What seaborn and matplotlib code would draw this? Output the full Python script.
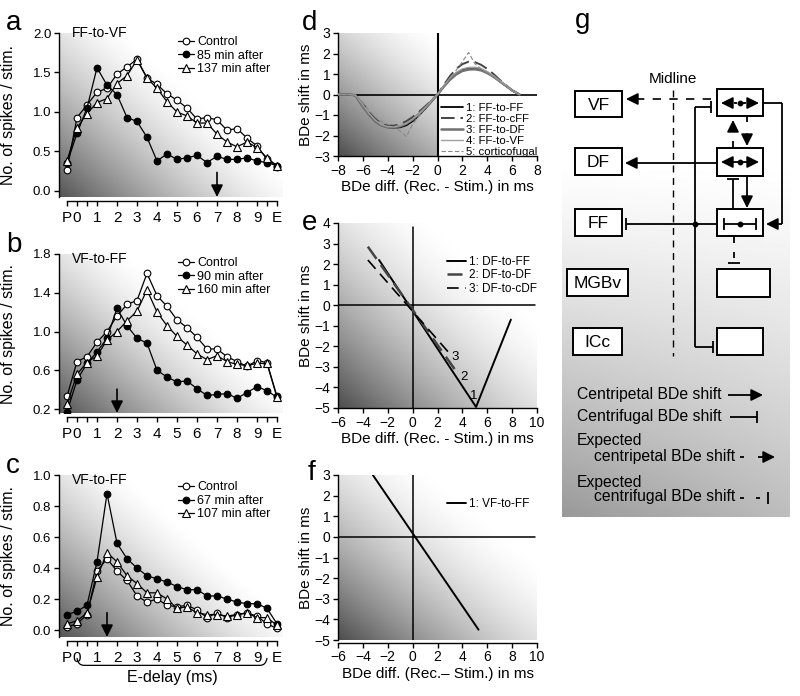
import numpy as np
import matplotlib
matplotlib.use("Agg")
import matplotlib.pyplot as plt
import matplotlib.transforms as mtransforms
from matplotlib.patches import Rectangle, PathPatch
from matplotlib.path import Path
import seaborn as sns

# ---------------------------------------------------------------- data
delay_x = [-0.5, 0, 0.5, 1, 1.5, 2, 2.5, 3, 3.5, 4, 4.5, 5, 5.5, 6, 6.5, 7, 7.5, 8, 8.5, 9, 9.5, 10]
delay_ticks = [-0.5, 0, 0.5, 1, 2, 3, 4, 5, 6, 7, 8, 9, 9.5, 10]
delay_labels = ["P", "0", "", "1", "2", "3", "4", "5", "6", "7", "8", "9", "", "E"]

a_control = [0.27, 0.93, 1.09, 1.25, 1.30, 1.48, 1.57, 1.67, 1.43, 1.35, 1.23, 1.15, 1.05, 0.91, 0.93, 0.90, 0.77, 0.79, 0.67, 0.57, 0.40, 0.31]
a_85min = [0.35, 0.73, 1.05, 1.56, 1.34, 1.22, 0.93, 0.88, 0.68, 0.38, 0.47, 0.40, 0.42, 0.45, 0.36, 0.44, 0.40, 0.40, 0.42, 0.38, 0.36, 0.32]
a_137min = [0.38, 0.80, 0.98, 1.12, 1.17, 1.36, 1.46, 1.66, 1.43, 1.30, 1.13, 1.00, 0.95, 0.86, 0.86, 0.72, 0.62, 0.56, 0.62, 0.55, 0.42, 0.32]

b_control = [0.33, 0.69, 0.74, 0.89, 1.00, 1.16, 1.28, 1.32, 1.60, 1.37, 1.26, 1.12, 1.04, 0.94, 0.82, 0.82, 0.74, 0.69, 0.64, 0.70, 0.68, 0.33]
b_90min = [0.17, 0.50, 0.67, 0.79, 0.93, 1.24, 1.06, 0.93, 0.88, 0.60, 0.53, 0.48, 0.49, 0.41, 0.34, 0.35, 0.36, 0.31, 0.37, 0.43, 0.39, 0.32]
b_160min = [0.25, 0.56, 0.68, 0.75, 0.91, 1.00, 1.11, 1.21, 1.43, 1.20, 1.06, 0.95, 0.86, 0.77, 0.71, 0.75, 0.69, 0.66, 0.65, 0.67, 0.67, 0.32]

c_control = [0.02, 0.04, 0.10, 0.38, 0.46, 0.38, 0.32, 0.22, 0.18, 0.20, 0.16, 0.15, 0.16, 0.13, 0.08, 0.11, 0.08, 0.10, 0.11, 0.09, 0.04, 0.01]
c_67min = [0.10, 0.12, 0.16, 0.44, 0.88, 0.56, 0.46, 0.40, 0.35, 0.33, 0.31, 0.28, 0.26, 0.26, 0.22, 0.22, 0.20, 0.18, 0.17, 0.17, 0.14, 0.04]
c_107min = [0.04, 0.06, 0.11, 0.34, 0.50, 0.44, 0.35, 0.30, 0.24, 0.24, 0.20, 0.14, 0.15, 0.11, 0.10, 0.10, 0.09, 0.10, 0.11, 0.08, 0.08, 0.03]

titles_abc = ["FF-to-VF", "VF-to-FF", "VF-to-FF"]
labels_a = ["Control", "85 min after", "137 min after"]
labels_b = ["Control", "90 min after", "160 min after"]
labels_c = ["Control", "67 min after", "107 min after"]
arrow_delay = [7, 2, 1.5]

# panel d: BDe shift curves
d_x = [-8, -7, -6.6, -6, -5.5, -5, -4.5, -4, -3.5, -3, -2.5, -2, -1.5, -1, -0.5, 0,
       0.5, 1, 1.5, 2, 2.5, 3, 3.5, 4, 4.5, 5, 5.5, 6, 6.6]
d_ff_ff = [0, 0, -0.05, -0.55, -0.95, -1.3, -1.5, -1.6, -1.62, -1.6, -1.5, -1.3, -1.02, -0.7, -0.36, 0,
           0.4, 0.75, 1.02, 1.2, 1.28, 1.29, 1.22, 1.08, 0.88, 0.65, 0.42, 0.2, 0]
d_ff_cff = [0, -0.02, -0.1, -0.45, -0.85, -1.2, -1.42, -1.52, -1.52, -1.45, -1.3, -1.1, -0.85, -0.58, -0.3, 0,
            0.45, 0.9, 1.25, 1.48, 1.6, 1.58, 1.45, 1.25, 1.0, 0.72, 0.45, 0.2, 0]
d_ff_df = [0, 0, -0.05, -0.6, -1.0, -1.32, -1.52, -1.6, -1.6, -1.55, -1.42, -1.22, -0.95, -0.65, -0.33, 0,
           0.38, 0.72, 0.98, 1.15, 1.22, 1.23, 1.18, 1.05, 0.87, 0.65, 0.43, 0.2, 0]
d_ff_vf = [0, 0, -0.03, -0.5, -0.92, -1.25, -1.47, -1.57, -1.58, -1.52, -1.4, -1.2, -0.95, -0.65, -0.33, 0,
           0.42, 0.8, 1.08, 1.25, 1.32, 1.33, 1.27, 1.12, 0.92, 0.68, 0.44, 0.2, 0]
d_cortico = [0, 0, 0, -0.4, -0.78, -1.1, -1.32, -1.45, -1.58, -1.8, -2.05, -1.45, -1.05, -0.68, -0.33, 0,
             0.38, 0.78, 1.18, 1.6, 2.05, 1.5, 1.25, 1.05, 0.85, 0.62, 0.42, 0.2, 0]
d_labels = ["1: FF-to-FF", "2: FF-to-cFF", "3: FF-to-DF", "4: FF-to-VF", "5: corticofugal"]

# panel e: fitted lines
e_df_ff_x = [-2.7, 5.1, 7.9]
e_df_ff_y = [2.2, -4.95, -0.7]
e_df_df_x = [-3.6, 3.6]
e_df_df_y = [2.85, -3.3]
e_df_cdf_x = [-3.6, 2.9]
e_df_cdf_y = [2.2, -2.3]
e_labels = ["1: DF-to-FF", "2: DF-to-DF", "3: DF-to-cDF"]

# panel f
f_x = [-3.2, 5.3]
f_y = [3.0, -4.5]
f_labels = ["1: VF-to-FF"]

# ---------------------------------------------------------------- style
sns.set_theme(style="ticks", rc={
    "axes.edgecolor": "black", "axes.linewidth": 1.0,
    "xtick.color": "black", "ytick.color": "black",
    "xtick.major.size": 3.5, "ytick.major.size": 3.5,
    "xtick.major.width": 1.0, "ytick.major.width": 1.0,
    "xtick.major.pad": 2, "ytick.major.pad": 2,
    "text.color": "black", "axes.labelcolor": "black",
})
plt.rcParams["font.family"] = ["Liberation Sans", "DejaVu Sans"]

W, H = 800, 696
fig = plt.figure(figsize=(8, 6.96), dpi=100)


def px_axes(l, t, r, b):
    return fig.add_axes([l / W, 1 - b / H, (r - l) / W, (b - t) / H])


def shade(ax, ext, wx=0.55, dark=0.33, reach=0.62, power=1.4):
    u = np.linspace(0, 1, 200)
    U, V = np.meshgrid(u, u)
    t = wx * U + (1 - wx) * V
    g = 1 - (1 - dark) * np.clip(1 - t / reach, 0, 1) ** power
    ax.imshow(g, cmap="gray", vmin=0, vmax=1, origin="lower", extent=ext,
              aspect="auto", zorder=0, interpolation="bilinear")


# ---------------------------------------------------------------- panels a-c
abc_rows = [
    (33, 197, (-0.076, 2.0), [0, 0.5, 1.0, 1.5, 2.0], [a_control, a_85min, a_137min], labels_a, 0.98),
    (254, 413, (0.159, 1.8), [0.2, 0.6, 1.0, 1.4, 1.8], [b_control, b_90min, b_160min], labels_b, 0.98),
    (475, 637, (-0.045, 1.0), [0, 0.2, 0.4, 0.6, 0.8, 1.0], [c_control, c_67min, c_107min], labels_c, 0.96),
]
mk = [dict(marker="o", markerfacecolor="white", markersize=4.8),
      dict(marker="o", markerfacecolor="black", markersize=4.8),
      dict(marker="^", markerfacecolor="white", markersize=5.5)]

for i, (top, bot, ylim, yt, series, labs, legy) in enumerate(abc_rows):
    ax = px_axes(59, top, 283, bot)
    xlim = (-0.9, 10.3)
    shade(ax, (xlim[0], xlim[1], ylim[0], ylim[1]))
    for vals, lab, m in zip(series, labs, mk):
        sns.lineplot(x=delay_x, y=vals, ax=ax, color="black", lw=0.9, label=lab,
                     markeredgecolor="black", markeredgewidth=0.8, estimator=None,
                     sort=False, zorder=3, **m)
    ax.set_xlim(*xlim)
    ax.set_ylim(*ylim)
    ax.set_yticks(yt)
    ax.set_yticklabels([f"{v:.1f}" for v in yt], fontsize=9.5)
    ax.set_xticks(delay_ticks)
    ax.set_xticklabels(delay_labels, fontsize=9.5)
    ax.tick_params(axis="x", pad=3.5)
    sns.despine(ax=ax)
    ax.spines["bottom"].set_position(("outward", 3))
    ax.spines["bottom"].set_bounds(-0.5, 10)
    ax.set_ylabel("No. of spikes / stim.", fontsize=11.5)
    ax.yaxis.set_label_coords(-0.19, 0.5)
    ax.set_xlabel("")
    ax.text(0.058, 1.0 if i == 0 else 0.97, titles_abc[i], transform=ax.transAxes,
            fontsize=10, va="center", ha="left")
    ax.legend(loc="upper left", bbox_to_anchor=(0.53, legy), frameon=False, fontsize=9,
              handlelength=1.3, handletextpad=0.25, labelspacing=0.12, borderpad=0,
              borderaxespad=0)
    ax.annotate("", xy=(arrow_delay[i], 0.0), xytext=(arrow_delay[i], 0.15),
                xycoords=("data", "axes fraction"), textcoords=("data", "axes fraction"),
                arrowprops=dict(arrowstyle="-|>,head_length=0.6,head_width=0.3",
                                color="black", lw=1.2, shrinkA=0, shrinkB=0), zorder=4)
    if i == 2:
        tr = mtransforms.blended_transform_factory(ax.transData, ax.transAxes)
        y1, y2 = -0.13, -0.175
        verts = [(0, y1), (0.05, y2), (0.35, y2), (9.15, y2), (9.45, y2), (9.5, y1)]
        codes = [Path.MOVETO, Path.CURVE3, Path.CURVE3, Path.LINETO, Path.CURVE3, Path.CURVE3]
        ax.add_patch(PathPatch(Path(verts, codes), transform=tr, fc="none", ec="black",
                               lw=0.9, clip_on=False))
        ax.text(4.75, -0.25, "E-delay (ms)", transform=tr, ha="center", va="center",
                fontsize=11.5)

# ---------------------------------------------------------------- panel d
axd = px_axes(338, 33, 537, 156)
shade(axd, (-8, 0, -3, 3), wx=0.4, dark=0.3, reach=1.0, power=1.5)
d_styles = [
    dict(color="black", lw=1.3, linestyle="-"),
    dict(color="#444444", lw=1.4, linestyle=(0, (7, 3))),
    dict(color="#707070", lw=1.8, linestyle="-"),
    dict(color="#a0a0a0", lw=1.0, linestyle="-"),
    dict(color="#888888", lw=0.8, linestyle=(0, (4, 2))),
]
for ys, lab, st in zip([d_ff_ff, d_ff_cff, d_ff_df, d_ff_vf, d_cortico], d_labels, d_styles):
    sns.lineplot(x=d_x, y=ys, ax=axd, label=lab, estimator=None, sort=False, zorder=3, **st)
axd.plot([-8, 8], [0, 0], color="black", lw=1.2, zorder=2)
axd.plot([0, 0], [-3, 3], color="black", lw=1.5, zorder=2)
axd.set_xlim(-8, 8)
axd.set_ylim(-3, 3)
axd.set_xticks(range(-8, 9, 2))
axd.set_yticks(range(-3, 4))
axd.tick_params(labelsize=10)
sns.despine(ax=axd)
axd.set_xlabel("BDe diff. (Rec. - Stim.) in ms", fontsize=11, labelpad=2)
axd.set_ylabel("BDe shift in ms", fontsize=11, labelpad=1)
axd.legend(loc="lower right", bbox_to_anchor=(1.0, -0.005), frameon=False, fontsize=8.2,
           handlelength=2.0, handletextpad=0.2, labelspacing=0.07, borderpad=0,
           borderaxespad=0)

# ---------------------------------------------------------------- panel e
axe = px_axes(338, 223, 537, 408)
shade(axe, (-6, 10, -5, 4), wx=0.5, dark=0.3, reach=0.75, power=1.6)
sns.lineplot(x=e_df_ff_x, y=e_df_ff_y, ax=axe, color="black", lw=1.4, label=e_labels[0],
             estimator=None, sort=False, zorder=3)
sns.lineplot(x=e_df_df_x, y=e_df_df_y, ax=axe, color="#444444", lw=1.8, linestyle=(0, (6, 3)),
             label=e_labels[1], estimator=None, sort=False, zorder=3)
sns.lineplot(x=e_df_cdf_x, y=e_df_cdf_y, ax=axe, color="black", lw=1.2, linestyle=(0, (7, 4)),
             label=e_labels[2], estimator=None, sort=False, zorder=3)
axe.plot([-6, 9.8], [0, 0], color="black", lw=1.1, zorder=2)
axe.plot([0, 0], [-5, 3.8], color="black", lw=1.1, zorder=2)
for lx, ly, t in [(4.9, -4.4, "1"), (4.1, -3.5, "2"), (3.4, -2.5, "3")]:
    axe.text(lx, ly, t, fontsize=9.5, ha="center", va="center", zorder=4)
axe.set_xlim(-6, 10)
axe.set_ylim(-5, 4)
axe.set_xticks(range(-6, 11, 2))
axe.set_yticks(range(-5, 5))
axe.tick_params(labelsize=10)
sns.despine(ax=axe)
axe.set_xlabel("BDe diff. (Rec. - Stim.) in ms", fontsize=11, labelpad=2)
axe.set_ylabel("BDe shift in ms", fontsize=11, labelpad=1)
axe.legend(loc="upper left", bbox_to_anchor=(0.55, 0.82), frameon=False, fontsize=8.5,
           handlelength=1.6, handletextpad=0.2, labelspacing=0.1, borderpad=0,
           borderaxespad=0)

# ---------------------------------------------------------------- panel f
axf = px_axes(338, 475, 537, 640)
shade(axf, (-6, 10, -5, 3), wx=0.5, dark=0.3, reach=0.75, power=1.6)
sns.lineplot(x=f_x, y=f_y, ax=axf, color="black", lw=1.4, label=f_labels[0],
             estimator=None, sort=False, zorder=3)
axf.plot([-6, 9.8], [0, 0], color="black", lw=1.1, zorder=2)
axf.plot([0, 0], [-5, 3], color="black", lw=1.1, zorder=2)
axf.set_xlim(-6, 10)
axf.set_ylim(-5, 3)
axf.set_xticks(range(-6, 11, 2))
axf.set_yticks(range(-5, 4))
axf.tick_params(labelsize=10)
sns.despine(ax=axf)
axf.spines["bottom"].set_position(("outward", 2))
axf.set_xlabel("BDe diff. (Rec.\u2013 Stim.) in ms", fontsize=11, labelpad=2)
axf.set_ylabel("BDe shift in ms", fontsize=11, labelpad=1)
axf.legend(loc="upper left", bbox_to_anchor=(0.55, 0.86), frameon=False, fontsize=8.5,
           handlelength=1.6, handletextpad=0.2, borderpad=0, borderaxespad=0)

# ---------------------------------------------------------------- panel g (schematic, pixel coords)
gx = fig.add_axes([0, 0, 1, 1])
gx.patch.set_alpha(0)
gx.axis("off")

yy = np.linspace(40, 517, 300)
xx = np.linspace(562, 790, 150)
X, Y = np.meshgrid(xx, yy)
tt = np.clip((Y - 160) / 357, 0, 1)
ss = (X - 562) / 228
gg = 1 - 0.4 * tt ** 1.25 * (1 - 0.35 * ss)
gx.imshow(gg, cmap="gray", vmin=0, vmax=1, extent=(562, 790, 517, 40), aspect="auto",
          zorder=0, interpolation="bilinear")


def seg(x0, y0, x1, y1, ls="-", lw=1.3):
    gx.plot([x0, x1], [y0, y1], color="black", lw=lw, ls=ls, solid_capstyle="butt", zorder=4)


def head(x0, y0, x1, y1):
    gx.annotate("", xy=(x1, y1), xytext=(x0, y0),
                arrowprops=dict(arrowstyle="-|>,head_length=0.6,head_width=0.3", color="black",
                                lw=1.2, shrinkA=0, shrinkB=0, mutation_scale=12), zorder=5)


def box(x0, y0, x1, y1, label=None):
    gx.add_patch(Rectangle((x0, y0), x1 - x0, y1 - y0, fc="white", ec="black", lw=1.4, zorder=3))
    if label:
        gx.text((x0 + x1) / 2, (y0 + y1) / 2 + 1, label, ha="center", va="center",
                fontsize=12.5, zorder=4)


def dot(x, y):
    gx.plot([x], [y], "o", color="black", ms=3.2, zorder=6)


for (x0, y0, x1, y1, lab) in [(575, 91, 622, 117, "VF"), (575, 148, 622, 175, "DF"),
                              (575, 209, 622, 236, "FF"), (567, 269, 628, 296, "MGBv"),
                              (573, 328, 622, 355, "ICc")]:
    box(x0, y0, x1, y1, lab)
for (x0, y0, x1, y1) in [(717, 89, 763, 116), (717, 148, 763, 176), (717, 209, 763, 236),
                         (717, 269, 770, 297), (717, 328, 763, 355)]:
    box(x0, y0, x1, y1)

gx.text(673, 79, "Midline", ha="center", va="center", fontsize=11)
gx.plot([673, 673], [90, 356], color="black", lw=1.0, ls=(0, (5, 4)), zorder=2)

# VF: expected centripetal (dashed)
gx.plot([711, 636], [99, 99], color="black", lw=1.2, ls=(0, (5, 5)), zorder=4)
head(636, 99, 626, 99)
# DF: centripetal
seg(717, 163, 634, 163)
head(636, 163, 625, 163)
# FF: centrifugal
seg(717, 224, 626, 224)
seg(626, 218, 626, 230)
dot(695, 224)
# vertical feed line
seg(695, 107, 695, 347)
seg(695, 107, 711, 107)
seg(711, 101, 711, 113)
seg(695, 347, 713, 347)
seg(713, 341, 713, 353)
# right loop
seg(763, 103, 782, 103)
seg(782, 103, 782, 224)
seg(782, 224, 774, 224)
head(776, 224, 766, 224)
# inside R1 (expected, dashed)
head(732, 103, 721, 103)
seg(734, 103, 737, 103)
seg(743, 103, 746, 103)
head(748, 103, 759, 103)
dot(740, 103)
# inside R2 (solid)
seg(730, 162, 750, 162)
head(731, 162, 721, 162)
head(749, 162, 759, 162)
dot(740, 162)
# inside R3 (centrifugal both ways)
seg(724, 224, 756, 224)
seg(724, 218, 724, 230)
seg(756, 218, 756, 230)
dot(740, 224)
# between R1 and R2
seg(733, 141, 733, 148)
head(733, 131, 733, 120)
seg(747, 116, 747, 122)
head(747, 134, 747, 146)
# between R2 and R3
seg(733, 179, 733, 209)
seg(727, 179, 739, 179)
seg(747, 176, 747, 200)
head(747, 197, 747, 208)
# below R3 (expected centrifugal)
seg(734, 237, 734, 243)
seg(734, 252, 734, 258)
seg(728, 263, 740, 263)

# legend of the schematic
fs_g = 11.3
gx.text(577, 394, "Centripetal BDe shift", fontsize=fs_g, va="center", ha="left")
seg(728, 395, 752, 395)
head(752, 395, 763, 395)
gx.text(577, 416, "Centrifugal BDe shift", fontsize=fs_g, va="center", ha="left")
seg(730, 417, 757, 417)
seg(757, 411, 757, 423)
gx.text(577, 440, "Expected", fontsize=fs_g, va="center", ha="left")
gx.text(594, 456, "centripetal BDe shift", fontsize=fs_g, va="center", ha="left")
seg(740, 457, 744, 457)
head(764, 457, 775, 457)
seg(758, 457, 765, 457)
gx.text(577, 482, "Expected", fontsize=fs_g, va="center", ha="left")
gx.text(594, 497, "centrifugal BDe shift", fontsize=fs_g, va="center", ha="left")
seg(740, 498, 744, 498)
seg(756, 498, 760, 498)
seg(768, 492, 768, 504)

# panel letters
for (lx, ly, L) in [(6, 30, "a"), (6, 252, "b"), (6, 473, "c"), (302, 30, "d"),
                    (302, 230, "e"), (308, 480, "f"), (575, 28, "g")]:
    gx.text(lx, ly, L, fontsize=20, ha="left", va="baseline")

gx.set_xlim(0, W)
gx.set_ylim(H, 0)

fig.savefig("out.png", dpi=100)
